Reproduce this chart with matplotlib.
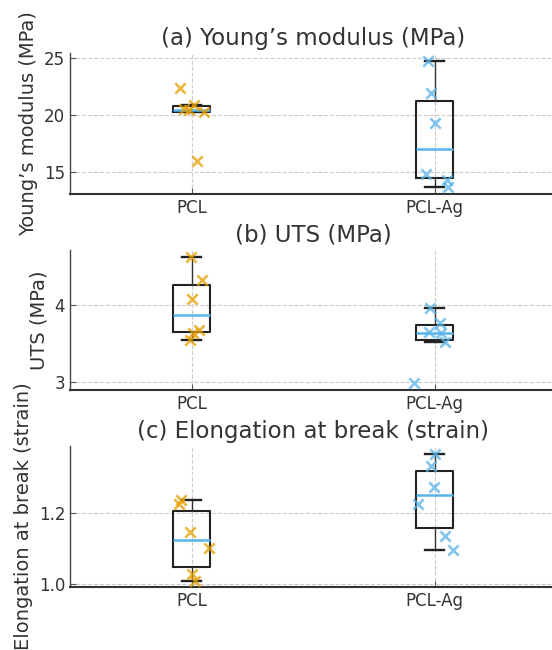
import matplotlib
matplotlib.use("Agg")
import matplotlib.pyplot as plt
import numpy as np

# dados
grupos = ["PCL", "PCL-Ag"]

young_pcl = [22.4, 20.85, 20.5, 20.4, 20.25, 15.9]
young_pcl_jit = [-0.049, 0.012, -0.03, -0.01, 0.053, 0.023]
young_ag = [24.75, 21.9, 19.3, 14.75, 14.3, 13.65]
young_ag_jit = [-0.028, -0.014, 0.004, -0.034, 0.052, 0.055]

uts_pcl = [4.63, 4.33, 4.08, 3.67, 3.64, 3.55]
uts_pcl_jit = [-0.001, 0.045, 0.003, 0.03, 0.005, -0.008]
uts_ag = [3.96, 3.77, 3.65, 3.63, 3.52, 2.98]
uts_ag_jit = [-0.02, 0.024, -0.024, 0.025, 0.045, -0.086]

elong_pcl = [1.235, 1.225, 1.145, 1.10, 1.03, 1.01]
elong_pcl_jit = [-0.045, -0.05, -0.008, 0.07, 0.0, 0.013]
elong_ag = [1.365, 1.33, 1.272, 1.225, 1.135, 1.097]
elong_ag_jit = [0.004, -0.014, -0.003, -0.069, 0.044, 0.078]

cor_pcl = "#E69F00"
cor_ag = "#56B4E9"
texto = "#333333"

plt.rcParams["font.family"] = "DejaVu Sans"
plt.rcParams["text.color"] = texto
plt.rcParams["axes.labelcolor"] = texto
plt.rcParams["xtick.color"] = texto
plt.rcParams["ytick.color"] = texto

fig = plt.figure(figsize=(5.52, 6.5), dpi=100)

paineis = [
    ("(a) Young\u2019s modulus (MPa)", "Young\u2019s modulus (MPa)",
     young_pcl, young_pcl_jit, young_ag, young_ag_jit,
     (13.03, 25.45), [15, 20, 25], ["15", "20", "25"], 194, 53),
    ("(b) UTS (MPa)", "UTS (MPa)",
     uts_pcl, uts_pcl_jit, uts_ag, uts_ag_jit,
     (2.89, 4.72), [3, 4], ["3", "4"], 390, 250),
    ("(c) Elongation at break (strain)", "Elongation at break (strain)",
     elong_pcl, elong_pcl_jit, elong_ag, elong_ag_jit,
     (0.9925, 1.386), [1.0, 1.2], ["1.0", "1.2"], 587, 446),
]

for titulo, ylab, d1, j1, d2, j2, ylim, yt, ytl, baixo, topo in paineis:
    ax = fig.add_axes([70 / 552, 1 - baixo / 650, 486 / 552, (baixo - topo) / 650])

    ax.boxplot([d1, d2], positions=[1, 2], widths=0.15, showfliers=False,
               boxprops=dict(color="#222222", linewidth=1.5),
               whiskerprops=dict(color="#333333", linewidth=1.0),
               capprops=dict(color="#222222", linewidth=1.7),
               medianprops=dict(color=cor_ag, linewidth=1.8))

    ax.scatter(1 + np.array(j1), d1, marker="x", s=55, linewidths=1.9,
               color=cor_pcl, alpha=0.75, zorder=3)
    ax.scatter(2 + np.array(j2), d2, marker="x", s=55, linewidths=1.9,
               color=cor_ag, alpha=0.75, zorder=3)

    ax.set_xlim(0.5, 2.5)
    ax.set_ylim(*ylim)
    ax.set_xticks([1, 2])
    ax.set_xticklabels(grupos)
    ax.set_yticks(yt)
    ax.set_yticklabels(ytl)
    ax.tick_params(direction="in", length=4, labelsize=12, colors="#555555",
                   labelcolor=texto)

    ax.set_title(titulo, fontsize=16.5, color=texto, pad=6)
    ax.set_ylabel(ylab, fontsize=14)

    ax.grid(True, linestyle="--", color="#cccccc", linewidth=0.8)
    ax.set_axisbelow(True)
    ax.spines["top"].set_visible(False)
    ax.spines["right"].set_visible(False)
    ax.spines["left"].set_color("#444444")
    ax.spines["bottom"].set_color("#333333")
    ax.spines["left"].set_linewidth(1.0)
    ax.spines["bottom"].set_linewidth(1.5)

plt.savefig("out.png", dpi=100)
plt.close()
